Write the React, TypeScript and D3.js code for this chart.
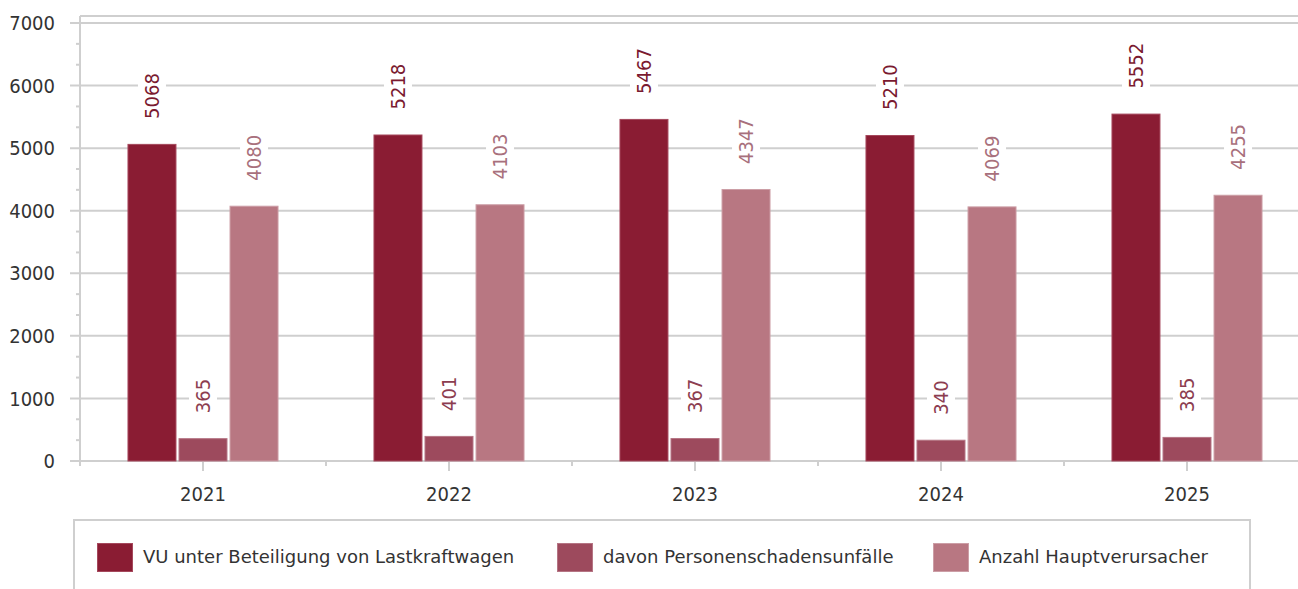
import React from 'react';
import * as d3 from 'd3';

const years = ['2021', '2022', '2023', '2024', '2025'];
const seriesNames = [
    'VU unter Beteiligung von Lastkraftwagen',
    'davon Personenschadensunfälle',
    'Anzahl Hauptverursacher',
];
const lkwUnfaelle = [5068, 5218, 5467, 5210, 5552];
const personenschaden = [365, 401, 367, 340, 385];
const hauptverursacher = [4080, 4103, 4347, 4069, 4255];
const yTicks = [0, 1000, 2000, 3000, 4000, 5000, 6000, 7000];

const fills = ['#8a1c33', '#9d4a5d', '#b87782'];
const strokes = ['#a5485c', '#b57584', '#cc9ea6'];
const labelColors = ['#7a1a30', '#8c3d50', '#a8707c'];

const W = 1298;
const H = 589;
const FONT = '"DejaVu Sans Condensed", "DejaVu Sans", sans-serif';
const LEGEND_FONT = '"DejaVu Sans", sans-serif';
const GRID = '#cfcfcf';

export default function App() {
    const values = [lkwUnfaelle, personenschaden, hauptverursacher];

    const x = d3.scaleBand<string>()
        .domain(years)
        .range([80, 1310])
        .paddingInner(0.386)
        .paddingOuter(0.193);
    const step = x.step();

    const inner = d3.scaleBand<string>()
        .domain(seriesNames)
        .range([0, x.bandwidth()])
        .paddingInner(0.04);

    const y = d3.scaleLinear().domain([0, 7000]).range([461, 23]);
    const minorTicks = d3.range(0, 7000, 1000 / 3).filter((_, i) => i % 3 !== 0);

    const plotLeft = 80;
    const plotTop = 16;

    return (
        <svg width={W} height={H} style={{position: 'absolute', left: 0, top: 0, background: '#fff'}}
             fontFamily={FONT}>
            {/* gridlines */}
            {yTicks.map(t => (
                <line key={'g' + t} x1={70} x2={W} y1={y(t)} y2={y(t)} stroke={GRID} strokeWidth={2}/>
            ))}
            {minorTicks.map(t => (
                <line key={'m' + t} x1={76} x2={plotLeft} y1={y(t)} y2={y(t)} stroke={GRID} strokeWidth={2}/>
            ))}
            <line x1={plotLeft} x2={W} y1={plotTop} y2={plotTop} stroke={GRID} strokeWidth={2}/>
            <line x1={plotLeft} x2={plotLeft} y1={plotTop} y2={y(0)} stroke={GRID} strokeWidth={2}/>

            {/* x ticks */}
            {years.map(yr => {
                const c = x(yr)! + x.bandwidth() / 2;
                return (
                    <g key={'xt' + yr}>
                        <line x1={c} x2={c} y1={y(0)} y2={y(0) + 10} stroke={GRID} strokeWidth={2}/>
                        <line x1={c - step / 2} x2={c - step / 2} y1={y(0)} y2={y(0) + 5} stroke={GRID} strokeWidth={2}/>
                        <text x={c} y={501} textAnchor="middle" fontSize={20} fill="#333">{yr}</text>
                    </g>
                );
            })}

            {/* y labels */}
            {yTicks.map(t => (
                <text key={'yl' + t} x={55} y={y(t)} dy="0.36em" textAnchor="end" fontSize={20} fill="#333">{t}</text>
            ))}

            {/* bars */}
            {years.map((yr, i) => (
                <g key={'b' + yr} transform={`translate(${x(yr)},0)`}>
                    {seriesNames.map((s, k) => {
                        const v = values[k][i];
                        return (
                            <rect key={s} x={inner(s)! + 0.5} y={y(v) + 0.5} width={inner.bandwidth() - 1}
                                  height={y(0) - y(v) - 0.5} fill={fills[k]} stroke={strokes[k]} strokeWidth={1}/>
                        );
                    })}
                </g>
            ))}

            {/* value labels */}
            {years.map((yr, i) => (
                <g key={'l' + yr} transform={`translate(${x(yr)},0)`}>
                    {seriesNames.map((s, k) => {
                        const v = values[k][i];
                        const cx = inner(s)! + inner.bandwidth() / 2;
                        const len = String(v).length * 11;
                        return (
                            <g key={s} transform={`translate(${cx},${y(v) - 25}) rotate(-90)`}>
                                <rect x={-4} y={-14} width={len + 8} height={28} fill="#fff"/>
                                <text x={0} y={0} dy="0.36em" fontSize={20} fill={labelColors[k]}>{v}</text>
                            </g>
                        );
                    })}
                </g>
            ))}

            {/* legend */}
            <path d={`M74,${H + 2}V520H1250V${H + 2}`} fill="none" stroke={GRID} strokeWidth={2}/>
            {seriesNames.map((s, k) => {
                const lx = [97, 557, 933][k];
                return (
                    <g key={'lg' + s} transform={`translate(${lx},543)`}>
                        <rect x={0.5} y={0.5} width={35} height={28} fill={fills[k]} stroke={strokes[k]}/>
                        <text x={46} y={14} dy="0.36em" fontSize={18} fontFamily={LEGEND_FONT} fill="#333">{s}</text>
                    </g>
                );
            })}
        </svg>
    );
}
